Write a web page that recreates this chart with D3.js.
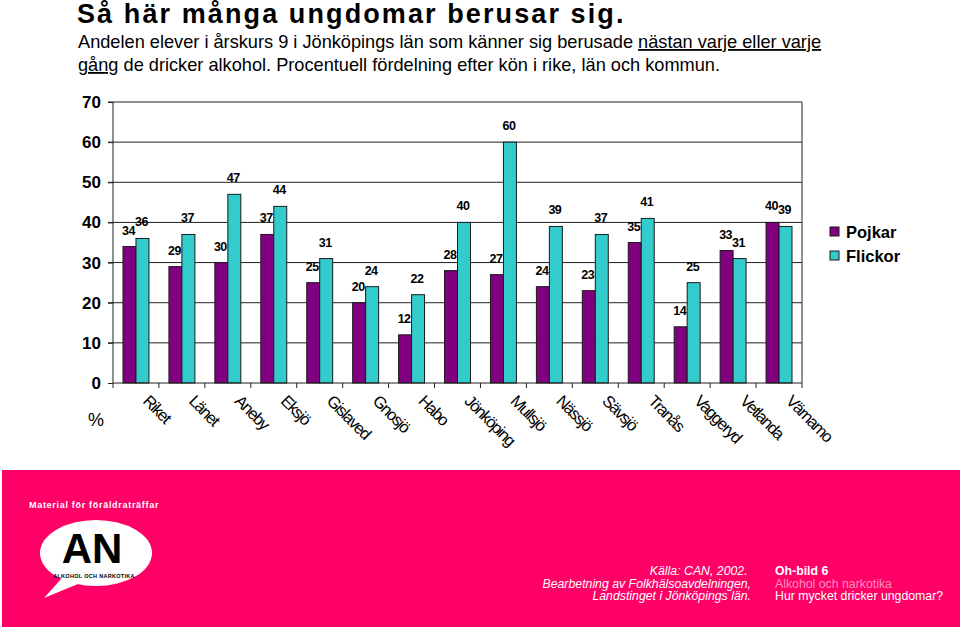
<!DOCTYPE html>
<html><head><meta charset="utf-8">
<script src="https://cdn.jsdelivr.net/npm/d3@7"></script>
<style>
html,body{margin:0;padding:0;background:#fff;}
svg{display:block;font-family:Arial,"Liberation Sans",sans-serif;}
</style></head>
<body>
<svg id="chart" width="960" height="629"></svg>
<script>
const categories = ["Riket","Länet","Aneby","Eksjö","Gislaved","Gnosjö","Habo","Jönköping","Mullsjö","Nässjö","Sävsjö","Tranås","Vaggeryd","Vetlanda","Värnamo"];
const pojkar  = [34,29,30,37,25,20,12,28,27,24,23,35,14,33,40];
const flickor = [36,37,47,44,31,24,22,40,60,39,37,41,25,31,39];
const seriesNames = ["Pojkar","Flickor"];
const seriesColors = ["#800080","#33cccc"];
const yTicks = [0,10,20,30,40,50,60,70];

const svg = d3.select("#chart");
const L = 113, R = 802, T = 102, B = 383;

// Title
svg.append("text").attr("x",77).attr("y",23)
  .attr("font-size",27).attr("font-weight","bold").attr("letter-spacing",2.1)
  .text("Så här många ungdomar berusar sig.");
const st1 = svg.append("text").attr("x",78).attr("y",48).attr("font-size",18.2);
st1.append("tspan").text("Andelen elever i årskurs 9 i Jönköpings län som känner sig berusade ");
st1.append("tspan").attr("text-decoration","underline").text("nästan varje eller varje");
const st2 = svg.append("text").attr("x",78).attr("y",71).attr("font-size",18.2);
st2.append("tspan").attr("text-decoration","underline").text("gång");
st2.append("tspan").text(" de dricker alkohol. Procentuell fördelning efter kön i rike, län och kommun.");

// Scales
const x = d3.scaleBand().domain(categories).range([L,R]).paddingInner(0.435).paddingOuter(0.2175);
const xs = d3.scaleBand().domain(seriesNames).range([0,x.bandwidth()]);
const y = d3.scaleLinear().domain([0,70]).range([B,T]);

// Gridlines
svg.append("g").selectAll("line").data(yTicks.filter(d=>d>0)).join("line")
  .attr("x1",L-5).attr("x2",R).attr("y1",d=>y(d)).attr("y2",d=>y(d))
  .attr("stroke","#222").attr("stroke-width",1);

// Y axis
const yAxis = svg.append("g").attr("transform",`translate(${L},0)`)
  .call(d3.axisLeft(y).tickValues(yTicks).tickSize(5).tickPadding(7).tickFormat(d3.format("d")));
yAxis.select(".domain").remove();
yAxis.selectAll("line").attr("stroke","#222");
yAxis.selectAll("text").attr("font-size",17).attr("font-weight","bold").attr("fill","#000")
  .attr("font-family","Arial, 'Liberation Sans', sans-serif");
svg.append("line").attr("x1",L).attr("x2",L).attr("y1",T).attr("y2",B).attr("stroke","#222");
svg.append("line").attr("x1",R).attr("x2",R).attr("y1",T).attr("y2",B).attr("stroke","#222");

// Bars
const data = categories.map((c,i)=>({c, vals:[pojkar[i],flickor[i]]}));
const groups = svg.append("g").selectAll("g").data(data).join("g")
  .attr("transform",d=>`translate(${x(d.c)},0)`);
groups.selectAll("rect").data(d=>d.vals.map((v,j)=>({v,s:seriesNames[j],j}))).join("rect")
  .attr("x",d=>xs(d.s)).attr("width",xs.bandwidth())
  .attr("y",d=>y(d.v)).attr("height",d=>B-y(d.v))
  .attr("fill",d=>seriesColors[d.j]).attr("stroke","#1a1a1a").attr("stroke-width",1);
groups.selectAll("text").data(d=>d.vals.map((v,j)=>({v,s:seriesNames[j],j}))).join("text")
  .attr("x",d=>xs(d.s)+xs.bandwidth()/2-1).attr("y",d=>y(d.v)-12)
  .attr("text-anchor","middle").attr("font-size",12.5).attr("font-weight","bold")
  .attr("letter-spacing",-0.5).text(d=>d.v);

// X axis (baseline + category boundary ticks)
svg.append("line").attr("x1",L).attr("x2",R).attr("y1",B).attr("y2",B).attr("stroke","#222");
const bounds = d3.range(categories.length+1).map(i=>L+i*x.step());
svg.append("g").selectAll("line").data(bounds).join("line")
  .attr("x1",d=>d).attr("x2",d=>d).attr("y1",B).attr("y2",B+5).attr("stroke","#222");
svg.append("g").selectAll("text").data(categories).join("text")
  .attr("transform",d=>`translate(${x(d)+x.bandwidth()/2+6},${402}) rotate(45)`)
  .attr("font-size",16.5).attr("letter-spacing",-1.3).text(d=>d);
svg.append("text").attr("x",88).attr("y",426).attr("font-size",18).text("%");

// Legend
const lg = svg.append("g").selectAll("g").data(seriesNames).join("g")
  .attr("transform",(d,i)=>`translate(830,${227+i*24})`);
lg.append("rect").attr("width",9).attr("height",9).attr("fill",(d,i)=>seriesColors[i]).attr("stroke","#1a1a1a");
lg.append("text").attr("x",16).attr("y",11).attr("font-size",16.5).attr("font-weight","bold").text(d=>d);

// Footer
svg.append("rect").attr("x",2).attr("y",470).attr("width",958).attr("height",157).attr("fill","#ff0066");
svg.append("text").attr("x",29).attr("y",508).attr("font-size",9).attr("font-weight","bold")
  .attr("letter-spacing",0.7).attr("fill","#fff").text("Material för föräldraträffar");
svg.append("path").attr("d","M62,578 L44,598 L78,584 Z").attr("fill","#fff");
svg.append("ellipse").attr("cx",96).attr("cy",553).attr("rx",56).attr("ry",33).attr("fill","#fff");
svg.append("text").attr("x",92).attr("y",563).attr("text-anchor","middle").attr("font-size",42)
  .attr("font-weight","bold").attr("fill","#000").text("AN");
svg.append("text").attr("x",94).attr("y",578).attr("text-anchor","middle").attr("font-size",5.5)
  .attr("font-weight","bold").attr("letter-spacing",0.3).attr("fill","#000").text("ALKOHOL OCH NARKOTIKA");

const src = ["Källa: CAN, 2002. ","Bearbetning av Folkhälsoavdelningen,","Landstinget i Jönköpings län."];
svg.append("g").selectAll("text").data(src).join("text")
  .attr("x",751).attr("y",(d,i)=>575+i*12.5).attr("text-anchor","end")
  .attr("font-size",12.3).attr("font-style","italic").attr("fill","#fff").attr("xml:space","preserve").text(d=>d);
const oh = ["Oh-bild 6","Alkohol och narkotika","Hur mycket dricker ungdomar?"];
svg.append("g").selectAll("text").data(oh).join("text")
  .attr("x",775).attr("y",(d,i)=>575+i*12.5)
  .attr("font-size",12.3).attr("font-weight",(d,i)=>i===0?"bold":"normal")
  .attr("fill",(d,i)=>i===1?"#ff8fbd":"#fff").text(d=>d);
</script>
</body></html>
